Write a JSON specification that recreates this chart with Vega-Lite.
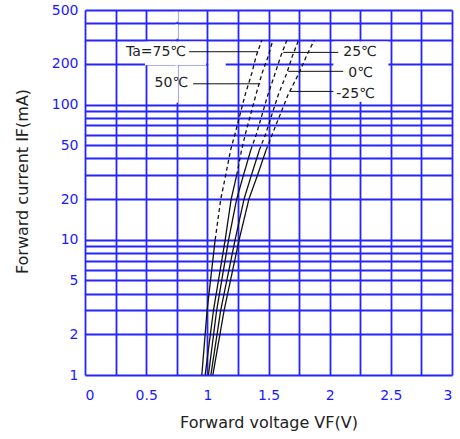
{
  "$schema": "https://vega.github.io/schema/vega-lite/v6.json",
  "width": 367,
  "height": 365,
  "autosize": {"type": "none"},
  "padding": {"left": 85, "top": 10, "right": 8, "bottom": 64},
  "background": "white",
  "config": {
    "view": {"stroke": null},
    "font": "DejaVu Sans",
    "axis": {
      "domain": false,
      "ticks": false,
      "tickSize": 0,
      "grid": true,
      "gridColor": "#2424ff",
      "gridWidth": 1.8,
      "gridOpacity": 1,
      "labelColor": "#1a1aff",
      "labelFont": "DejaVu Sans",
      "labelFontSize": 14,
      "titleFont": "DejaVu Sans",
      "titleFontSize": 16,
      "titleFontWeight": "normal",
      "titleColor": "#222222"
    }
  },
  "datasets": {
    "curves": [
      {"t": "75", "i": 1, "v": 0.955, "part": "low"},
      {"t": "75", "i": 3, "v": 0.998, "part": "low"},
      {"t": "75", "i": 10, "v": 1.064, "part": "low"},
      {"t": "75", "i": 10, "v": 1.064, "part": "high"},
      {"t": "75", "i": 20, "v": 1.11, "part": "high"},
      {"t": "75", "i": 30, "v": 1.15, "part": "high"},
      {"t": "75", "i": 46, "v": 1.19, "part": "high"},
      {"t": "75", "i": 60, "v": 1.225, "part": "high"},
      {"t": "75", "i": 118, "v": 1.309, "part": "high"},
      {"t": "75", "i": 171, "v": 1.364, "part": "high"},
      {"t": "75", "i": 228, "v": 1.399, "part": "high"},
      {"t": "75", "i": 300, "v": 1.446, "part": "high"},
      {"t": "50", "i": 1, "v": 0.982, "part": "low"},
      {"t": "50", "i": 3, "v": 1.05, "part": "low"},
      {"t": "50", "i": 10, "v": 1.146, "part": "low"},
      {"t": "50", "i": 20, "v": 1.195, "part": "low"},
      {"t": "50", "i": 30, "v": 1.24, "part": "low"},
      {"t": "50", "i": 30, "v": 1.24, "part": "high"},
      {"t": "50", "i": 46, "v": 1.28, "part": "high"},
      {"t": "50", "i": 60, "v": 1.31, "part": "high"},
      {"t": "50", "i": 118, "v": 1.397, "part": "high"},
      {"t": "50", "i": 171, "v": 1.448, "part": "high"},
      {"t": "50", "i": 228, "v": 1.498, "part": "high"},
      {"t": "50", "i": 300, "v": 1.536, "part": "high"},
      {"t": "25", "i": 1, "v": 1.009, "part": "low"},
      {"t": "25", "i": 3, "v": 1.076, "part": "low"},
      {"t": "25", "i": 10, "v": 1.174, "part": "low"},
      {"t": "25", "i": 20, "v": 1.24, "part": "low"},
      {"t": "25", "i": 30, "v": 1.295, "part": "low"},
      {"t": "25", "i": 46, "v": 1.355, "part": "low"},
      {"t": "25", "i": 46, "v": 1.355, "part": "high"},
      {"t": "25", "i": 60, "v": 1.4, "part": "high"},
      {"t": "25", "i": 118, "v": 1.495, "part": "high"},
      {"t": "25", "i": 171, "v": 1.555, "part": "high"},
      {"t": "25", "i": 228, "v": 1.6, "part": "high"},
      {"t": "25", "i": 300, "v": 1.651, "part": "high"},
      {"t": "0", "i": 1, "v": 1.029, "part": "low"},
      {"t": "0", "i": 3, "v": 1.109, "part": "low"},
      {"t": "0", "i": 10, "v": 1.227, "part": "low"},
      {"t": "0", "i": 20, "v": 1.3, "part": "low"},
      {"t": "0", "i": 30, "v": 1.36, "part": "low"},
      {"t": "0", "i": 46, "v": 1.425, "part": "low"},
      {"t": "0", "i": 46, "v": 1.425, "part": "high"},
      {"t": "0", "i": 60, "v": 1.475, "part": "high"},
      {"t": "0", "i": 118, "v": 1.58, "part": "high"},
      {"t": "0", "i": 171, "v": 1.65, "part": "high"},
      {"t": "0", "i": 228, "v": 1.695, "part": "high"},
      {"t": "0", "i": 300, "v": 1.746, "part": "high"},
      {"t": "-25", "i": 1, "v": 1.045, "part": "low"},
      {"t": "-25", "i": 3, "v": 1.137, "part": "low"},
      {"t": "-25", "i": 10, "v": 1.26, "part": "low"},
      {"t": "-25", "i": 20, "v": 1.34, "part": "low"},
      {"t": "-25", "i": 30, "v": 1.41, "part": "low"},
      {"t": "-25", "i": 46, "v": 1.48, "part": "low"},
      {"t": "-25", "i": 46, "v": 1.48, "part": "high"},
      {"t": "-25", "i": 60, "v": 1.53, "part": "high"},
      {"t": "-25", "i": 118, "v": 1.66, "part": "high"},
      {"t": "-25", "i": 171, "v": 1.75, "part": "high"},
      {"t": "-25", "i": 228, "v": 1.81, "part": "high"},
      {"t": "-25", "i": 300, "v": 1.874, "part": "high"}
    ],
    "masks": [
      {"v1": 0.49, "v2": 0.99, "i1": 195, "i2": 292},
      {"v1": 0.74, "v2": 0.76, "i1": 103, "i2": 195},
      {"v1": 0.74, "v2": 0.76, "i1": 307, "i2": 392},
      {"v1": 0.74, "v2": 0.76, "i1": 409, "i2": 488},
      {"v1": 1.01, "v2": 1.15, "i1": 192, "i2": 208},
      {"v1": 2.03, "v2": 2.48, "i1": 105, "i2": 293}
    ],
    "leaders": [
      {"t": "75", "v1": 0.851, "v2": 1.416, "i": 245.7},
      {"t": "50", "v1": 0.884, "v2": 1.432, "i": 142.3},
      {"t": "25", "v1": 1.62, "v2": 2.07, "i": 243},
      {"t": "0", "v1": 1.661, "v2": 2.111, "i": 176},
      {"t": "-25", "v1": 1.678, "v2": 2.03, "i": 125}
    ],
    "labels": [
      {"text": "Ta=75℃", "v": 0.826, "i": 245.7, "side": "left"},
      {"text": "50℃", "v": 0.843, "i": 144.8, "side": "left"},
      {"text": "25℃", "v": 2.111, "i": 243, "side": "right"},
      {"text": "0℃", "v": 2.152, "i": 169.7, "side": "right"},
      {"text": "-25℃", "v": 2.054, "i": 120.6, "side": "right"}
    ]
  },
  "layer": [
    {
      "data": {"name": "masks"},
      "mark": {"type": "rect", "color": "white"},
      "encoding": {
        "x": {"field": "v1", "type": "quantitative", "scale": {"domain": [0, 3], "nice": false},
          "axis": {
            "values": [0, 0.25, 0.5, 0.75, 1, 1.25, 1.5, 1.75, 2, 2.25, 2.5, 2.75, 3],
            "tickCount": 30,
            "labelExpr": "(datum.value*2) % 1 == 0 ? format(datum.value, '~g') : ''",
            "labelPadding": 13,
            "labelBaseline": "top",
            "title": "Forward voltage VF(V)",
            "titleX": 183.5,
            "titleY": 52,
            "titleBaseline": "alphabetic",
            "titleAnchor": "middle"
          }},
        "x2": {"field": "v2"},
        "y": {"field": "i1", "type": "quantitative", "scale": {"type": "log", "domain": [1, 500], "nice": false},
          "axis": {
            "values": [1, 2, 3, 4, 5, 6, 7, 8, 9, 10, 20, 30, 40, 50, 60, 70, 80, 90, 100, 200, 300, 400, 500],
            "tickCount": 40,
            "labelExpr": "indexof([1, 2, 5, 10, 20, 50, 100, 200, 500], datum.value) >= 0 ? format(datum.value, 'd') : ''",
            "labelPadding": 7,
            "title": "Forward current IF(mA)",
            "titleAngle": -90,
            "titleX": -58,
            "titleY": 171,
            "titleAlign": "center",
            "titleBaseline": "alphabetic"
          }},
        "y2": {"field": "i2"}
      }
    },
    {
      "data": {"name": "curves"},
      "mark": {"type": "line", "color": "#111111", "strokeWidth": 1.3},
      "encoding": {
        "x": {"field": "v", "type": "quantitative"},
        "y": {"field": "i", "type": "quantitative"},
        "detail": {"field": "t", "type": "nominal"},
        "strokeDash": {"field": "part", "type": "nominal",
          "scale": {"domain": ["low", "high"], "range": [[1, 0], [4, 3]]},
          "legend": null}
      }
    },
    {
      "data": {"name": "leaders"},
      "mark": {"type": "rule", "color": "#111111", "strokeWidth": 1},
      "encoding": {
        "x": {"field": "v1", "type": "quantitative"},
        "x2": {"field": "v2"},
        "y": {"field": "i", "type": "quantitative"}
      }
    },
    {
      "data": {"name": "labels"},
      "transform": [{"filter": "datum.side == 'left'"}],
      "mark": {"type": "text", "align": "right", "baseline": "middle", "fontSize": 14, "color": "#222222"},
      "encoding": {
        "x": {"field": "v", "type": "quantitative"},
        "y": {"field": "i", "type": "quantitative"},
        "text": {"field": "text"}
      }
    },
    {
      "data": {"name": "labels"},
      "transform": [{"filter": "datum.side == 'right'"}],
      "mark": {"type": "text", "align": "left", "baseline": "middle", "fontSize": 14, "color": "#222222"},
      "encoding": {
        "x": {"field": "v", "type": "quantitative"},
        "y": {"field": "i", "type": "quantitative"},
        "text": {"field": "text"}
      }
    }
  ]
}
